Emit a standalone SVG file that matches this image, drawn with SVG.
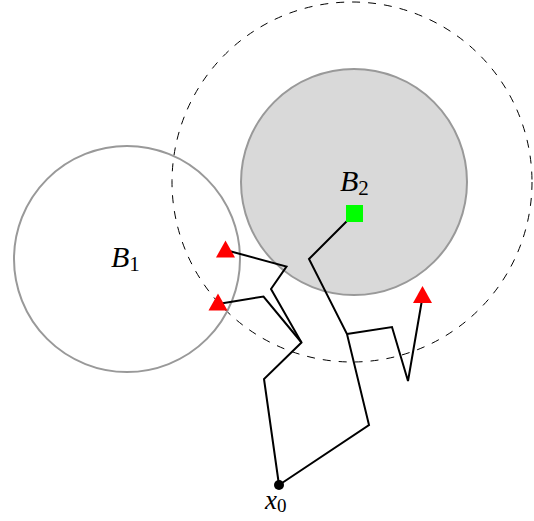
<svg xmlns="http://www.w3.org/2000/svg" width="534" height="521" viewBox="0 0 534 521">
<style>
.ball{stroke:#999;stroke-width:2}
.path{fill:none;stroke:#000;stroke-width:2;stroke-linejoin:miter}
.lbl{font-family:"Liberation Serif",serif;font-style:italic;fill:#000}
.sub{font-style:normal}
.tri{fill:#f00}
</style>
<defs>
<polygon id="tri" points="0,-10 9.5,7 -9.5,7"/>
</defs>
<g id="outer">
<circle cx="352" cy="182" r="180" fill="none" stroke="#000" stroke-width="1" stroke-dasharray="8,8"/>
</g>
<g id="B1">
<circle class="ball" cx="127" cy="259" r="113" fill="none"/>
<text class="lbl" x="111" y="267" font-size="30">B<tspan class="sub" font-size="21" dy="4">1</tspan></text>
</g>
<g id="B2">
<circle class="ball" cx="354" cy="182" r="113" fill="#d9d9d9"/>
<text class="lbl" x="340" y="191" font-size="30">B<tspan class="sub" font-size="21" dy="4">2</tspan></text>
</g>
<g id="connectors">
<polyline class="path" points="350,218 309,259 347,334 369,425 279,485"/>
<polyline class="path" points="347,334 392,327 408,381 422.5,297"/>
<polyline class="path" points="279,485 264,379 301.5,342.5 271,289 286.5,266.5 225.5,250"/>
<polyline class="path" points="301.5,342.5 263.5,296.5 218,304"/>
</g>
<g id="target">
<rect x="346" y="205" width="17" height="17" fill="#0f0"/>
</g>
<g id="exits">
<use href="#tri" class="tri" x="225.5" y="250.5"/>
<use href="#tri" class="tri" x="218" y="303.5"/>
<use href="#tri" class="tri" x="422.5" y="296"/>
</g>
<g id="x0">
<circle cx="279" cy="485" r="5" fill="#000"/>
<text class="lbl" x="265" y="509" font-size="27">x<tspan class="sub" font-size="19" dy="3">0</tspan></text>
</g>
</svg>
